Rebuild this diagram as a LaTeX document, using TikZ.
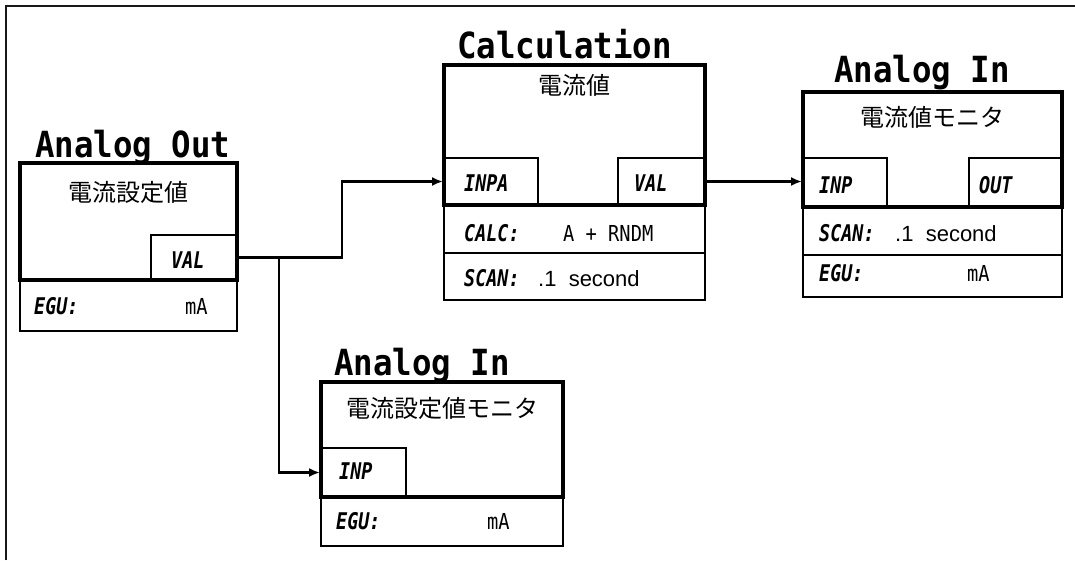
\documentclass[tikz,border=0pt]{standalone}
\usepackage{fontspec}
\usetikzlibrary{arrows.meta,fit}
\newfontfamily\jpfont{Noto Sans CJK JP}
\newfontfamily\ttlfont{DejaVu Sans Mono}[FakeStretch=0.9]
\newfontfamily\lblfont{DejaVu Sans Mono}[FakeStretch=0.8]
\newfontfamily\valfont{DejaVu Sans Mono}[FakeStretch=0.85]
\newfontfamily\propfont{Liberation Sans}
\begin{document}
\begin{tikzpicture}[x=1pt,y=-1pt,
  mainbox/.style={draw,line width=3.5pt,inner sep=0pt,outer sep=0pt},
  rowbox/.style={draw,line width=2.8pt,inner sep=0pt,outer sep=0pt},
  portbox/.style={draw,line width=1.3pt,inner sep=0pt,outer sep=0pt},
  ttl/.style={anchor=base west,inner sep=0pt,font=\ttlfont\bfseries\fontsize{36}{40}\selectfont},
  jp/.style={inner sep=0pt,font=\jpfont\fontsize{24}{28}\selectfont},
  lbl/.style={anchor=base west,inner sep=0pt,font=\lblfont\bfseries\itshape\fontsize{23}{26}\selectfont},
  val/.style={anchor=base west,inner sep=0pt,font=\valfont\fontsize{22}{26}\selectfont},
  prop/.style={anchor=base west,inner sep=0pt,font=\propfont\fontsize{22}{26}\selectfont},
  wire/.style={line width=2.5pt},
  arr/.style={wire,-{Latex[length=11pt,width=9pt]},shorten >=1pt}]
\useasboundingbox (0,0) rectangle (1075,560);
\fill[white] (0,0) rectangle (1075,560);
% frame
\draw[line width=2.4pt,black!90] (6,560) -- (6,6) -- (1075,6);

% ---- Analog Out ----
\node[ttl] (aoT) at (35,157) {Analog Out};
\node[portbox,fit={(151,235) (237,280)}] (aoVal) {};
\node[mainbox,fit={(20,163) (237,280)}] (ao) {};
\node[rowbox,fit={(20,280) (237,331)}] (aoEgu) {};
\node[jp] (aoName) at (128.5,192) {電流設定値};
\node[lbl] (aoValT) at (171,268) {VAL};
\node[lbl] (aoEguL) at (34,314) {EGU:};
\node[val] (aoEguV) at (185,314) {mA};

% ---- Calculation ----
\node[ttl] (cT) at (457,58) {Calculation};
\node[portbox,fit={(444,158) (538,205)}] (cInpa) {};
\node[portbox,fit={(618,158) (705,205)}] (cVal) {};
\node[mainbox,fit={(444,65) (705,205)}] (calc) {};
\node[rowbox,fit={(444,205) (705,253)}] (cCalc) {};
\node[rowbox,fit={(444,253) (705,300)}] (cScan) {};
\node[jp] (cName) at (574.5,85) {電流値};
\node[lbl] (cInpaT) at (464,191) {INPA};
\node[lbl] (cValT) at (634,191) {VAL};
\node[lbl] (cCalcL) at (464,241) {CALC:};
\node[val] (cCalcV) at (563,241) {A + RNDM};
\node[lbl] (cScanL) at (464,286) {SCAN:};
\node[prop] (cScanV) at (538,286) {.1\ \ second};

% ---- Analog In (right) ----
\node[ttl] (airT) at (834,82) {Analog In};
\node[portbox,fit={(803,158) (887,207)}] (airInp) {};
\node[portbox,fit={(969,158) (1062,207)}] (airOut) {};
\node[mainbox,fit={(803,92) (1062,207)}] (air) {};
\node[rowbox,fit={(803,207) (1062,255)}] (airScan) {};
\node[rowbox,fit={(803,255) (1062,297)}] (airEgu) {};
\node[jp] (airName) at (932,117) {電流値モニタ};
\node[lbl] (airInpT) at (819,193) {INP};
\node[lbl] (airOutT) at (979,193) {OUT};
\node[lbl] (airScanL) at (819,241) {SCAN:};
\node[prop] (airScanV) at (895,241) {.1\ \ second};
\node[lbl] (airEguL) at (819,281) {EGU:};
\node[val] (airEguV) at (967,281) {mA};

% ---- Analog In (lower) ----
\node[ttl] (ailT) at (334,375) {Analog In};
\node[portbox,fit={(321,448) (406,497)}] (ailInp) {};
\node[mainbox,fit={(321,382) (563,497)}] (ail) {};
\node[rowbox,fit={(321,497) (563,546)}] (ailEgu) {};
\node[jp] (ailName) at (442,408) {電流設定値モニタ};
\node[lbl] (ailInpT) at (339,479) {INP};
\node[lbl] (ailEguL) at (336,529) {EGU:};
\node[val] (ailEguV) at (487,529) {mA};

% ---- connectors ----
\coordinate (jx) at (279,0);
\coordinate (bx) at (342,0);
\draw[arr] (aoVal.east) -- (aoVal.east -| bx) |- (cInpa.west);
\draw[arr] (aoVal.east -| jx) |- (ailInp.west);
\draw[arr] (cVal.east) -- (cVal.east -| airInp.west);
\end{tikzpicture}
\end{document}
